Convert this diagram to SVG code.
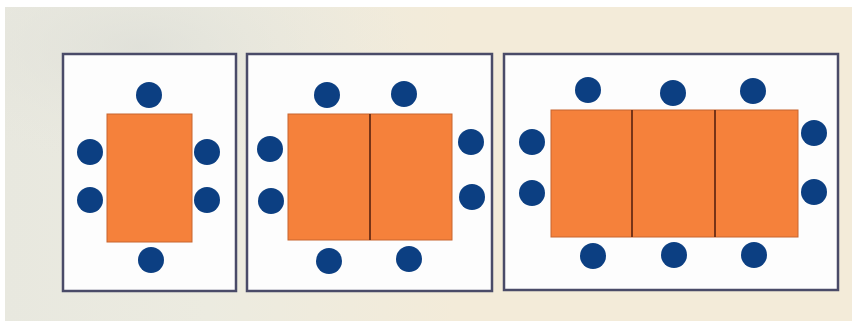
<svg xmlns="http://www.w3.org/2000/svg" width="852" height="324" viewBox="0 0 852 324">
<defs>
<style>
.panel{fill:#fdfdfd;stroke:#4a4b68;stroke-width:2.5}
.table{fill:#f5813b;stroke:#c8652e;stroke-width:1}
.div{stroke:#6a2c14;stroke-width:1.8}
.chair{fill:#0c3f82}
</style>
<linearGradient id="bg" x1="0" y1="0" x2="1" y2="0">
<stop offset="0" stop-color="#e8e8df"/>
<stop offset="0.45" stop-color="#ecebe0"/>
<stop offset="1" stop-color="#f3ebd9"/>
</linearGradient>
<radialGradient id="swirl" cx="0.3" cy="0.2" r="0.6">
<stop offset="0" stop-color="#dedfd8" stop-opacity="0.8"/>
<stop offset="1" stop-color="#e8e7de" stop-opacity="0"/>
</radialGradient>
</defs>
<rect x="0" y="0" width="852" height="324" fill="#ffffff"/>
<rect x="5" y="7" width="847" height="314" fill="#f3ebd9"/>
<rect x="5" y="7" width="450" height="314" fill="url(#bg)"/>
<rect x="5" y="7" width="450" height="200" fill="url(#swirl)"/>
<g id="room1">
<rect class="panel" x="63" y="54" width="173" height="237"/>
<rect class="table" x="107" y="114" width="85" height="128"/>
<circle class="chair" cx="149" cy="95" r="13"/>
<circle class="chair" cx="90" cy="152" r="13"/>
<circle class="chair" cx="90" cy="200" r="13"/>
<circle class="chair" cx="207" cy="152" r="13"/>
<circle class="chair" cx="207" cy="200" r="13"/>
<circle class="chair" cx="151" cy="260" r="13"/>
</g>
<g id="room2">
<rect class="panel" x="247" y="54" width="245" height="237"/>
<rect class="table" x="288" y="114" width="164" height="126"/>
<line class="div" x1="370" y1="114" x2="370" y2="240"/>
<circle class="chair" cx="327" cy="95" r="13"/>
<circle class="chair" cx="404" cy="94" r="13"/>
<circle class="chair" cx="270" cy="149" r="13"/>
<circle class="chair" cx="271" cy="201" r="13"/>
<circle class="chair" cx="471" cy="142" r="13"/>
<circle class="chair" cx="472" cy="197" r="13"/>
<circle class="chair" cx="329" cy="261" r="13"/>
<circle class="chair" cx="409" cy="259" r="13"/>
</g>
<g id="room3">
<rect class="panel" x="504" y="54" width="334" height="236"/>
<rect class="table" x="551" y="110" width="247" height="127"/>
<line class="div" x1="632" y1="110" x2="632" y2="237"/>
<line class="div" x1="715" y1="110" x2="715" y2="237"/>
<circle class="chair" cx="588" cy="90" r="13"/>
<circle class="chair" cx="673" cy="93" r="13"/>
<circle class="chair" cx="753" cy="91" r="13"/>
<circle class="chair" cx="532" cy="142" r="13"/>
<circle class="chair" cx="532" cy="193" r="13"/>
<circle class="chair" cx="814" cy="133" r="13"/>
<circle class="chair" cx="814" cy="192" r="13"/>
<circle class="chair" cx="593" cy="256" r="13"/>
<circle class="chair" cx="674" cy="255" r="13"/>
<circle class="chair" cx="754" cy="255" r="13"/>
</g>
<g id="connectors"/>
</svg>
